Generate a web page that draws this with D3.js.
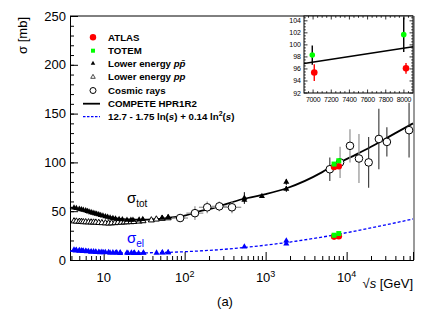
<!DOCTYPE html>
<html><head><meta charset="utf-8">
<script src="https://cdn.jsdelivr.net/npm/d3@7"></script>
<style>
html,body{margin:0;padding:0;background:#fff;}
text{font-family:"Liberation Sans",Arial,sans-serif;}
</style></head>
<body><svg id="c" width="436" height="310"></svg>
<script>
// ---------- data ----------
const yTicks = [0, 50, 100, 150, 200, 250];
const xTickExp = [1, 2, 3, 4];
const insetYTicks = [92, 94, 96, 98, 100, 102, 104];
const insetXTicks = [7000, 7200, 7400, 7600, 7800, 8000];

// COMPETE HPR1R2 total cross-section curve (sqrt s [GeV], sigma [mb])
const competeS   = [3.84, 5, 7, 10, 15, 20, 30, 60, 100, 155, 200, 525, 1000, 1820, 5000, 7000, 8000, 13000, 20000, 27000, 40000, 66000];
const competeSig = [54, 51.5, 48.5, 45.5, 42.5, 41.5, 41.3, 43, 45.5, 50, 52, 62.5, 67.5, 73.5, 90, 97.2, 99.5, 108, 116, 122, 130, 140];
// elastic parametrisation curve
const elS   = [3.84, 5, 10, 20, 50, 100, 300, 1000, 2000, 7000, 20000, 66000];
const elSig = [9.2, 8.5, 7.6, 7.25, 7.6, 8.5, 10.9, 15.2, 18.4, 25.6, 32.9, 42.0];

// ATLAS / TOTEM
const atlasS = [7000, 8000], atlasTot = [95.4, 96.1], atlasTotErr = [1.4, 0.9], atlasEl = [24.0, 24.3];
const totemS = [7000, 8000], totemTot = [98.3, 101.7], totemTotErr = [1.6, 2.9], totemEl = [25.4, 27.1];
// inset x positions (slightly offset in the inset)
const atlasInsetS = [7013, 8023];
const totemInsetS = [6991, 7998];
const insetLineS = [6900, 8100], insetLineSig = [96.9, 99.7];

// lower energy p-pbar (filled triangles)
const ppbarS   = [4.3, 4.6, 5.0, 5.3, 5.6, 6.0, 6.3, 6.6, 7.0, 7.4, 7.8, 8.2, 8.7, 9.2, 9.8, 10.5, 11.2, 12.0, 13.0, 14.0, 15.5, 17.0, 19.4, 21.7, 23.0, 27.4, 30.4, 52.6, 62.7, 546, 546, 900, 1800, 1800];
const ppbarTot = [53.5, 53.0, 52.3, 51.7, 51.2, 50.6, 50.0, 49.4, 48.8, 48.2, 47.6, 47.1, 46.5, 45.9, 45.3, 44.6, 44.0, 43.4, 42.8, 42.3, 41.8, 41.4, 41.1, 40.9, 41.0, 41.3, 41.8, 43.0, 43.9, 61.5, 63.5, 65.3, 72.8, 80.0];
const ppbarTotErr = [0.8, 0.8, 0.8, 0.7, 0.7, 0.7, 0.6, 0.6, 0.6, 0.6, 0.5, 0.5, 0.5, 0.5, 0.5, 0.5, 0.5, 0.5, 0.5, 0.5, 0.5, 0.5, 0.5, 0.5, 0.5, 0.5, 0.5, 0.5, 0.5, 1.5, 6.0, 1.0, 3.0, 3.0];
const ppbarElS = [4.3, 4.6, 5.0, 5.3, 5.6, 6.0, 6.5, 7.0, 7.5, 8.0, 8.7, 9.5, 10.5, 11.5, 13.0, 14.5, 16.0, 19.4, 22.0, 24.0, 31.0, 53.0, 62.5, 546, 1800, 1800];
const ppbarEl  = [10.5, 10.2, 9.9, 9.6, 9.4, 9.2, 9.0, 8.8, 8.6, 8.4, 8.3, 8.1, 8.0, 7.9, 7.8, 7.7, 7.6, 7.5, 7.4, 7.5, 7.5, 7.6, 7.8, 13.5, 16.6, 19.7];
// lower energy p-p (open triangles)
const ppS   = [4.3, 4.6, 5.0, 5.3, 5.6, 6.0, 6.5, 7.0, 7.5, 8.0, 8.7, 9.5, 10.5, 11.5, 12.5, 13.8, 15.0, 16.5, 18.0, 19.4, 21.7, 23.5, 27.4, 30.6, 38.8, 44.7, 52.8, 62.5];
const ppTot = [39.8, 39.6, 39.4, 39.2, 39.0, 38.9, 38.8, 38.7, 38.6, 38.5, 38.2, 38.0, 37.8, 37.6, 37.8, 38.0, 38.3, 38.5, 38.7, 38.9, 39.0, 39.2, 39.6, 40.0, 40.8, 41.7, 42.4, 43.0];
const ppElS = [4.5, 5.0, 5.5, 6.2, 7.0, 8.0, 9.0, 10.0, 12.0, 14.0, 16.0, 20.0, 23.5, 27.0, 31.0, 45.0, 53.0, 62.5];
const ppEl  = [9.5, 9.2, 8.9, 8.6, 8.3, 8.0, 7.8, 7.6, 7.3, 7.1, 7.0, 7.0, 6.9, 7.0, 7.1, 7.3, 7.4, 7.6];

// cosmic rays (open circles): grey error bars group
const cosmicAS   = [88, 134, 190, 268, 384, 8300, 11000, 14200];
const cosmicALo  = [70, 105, 150, 215, 300, 8300, 11000, 14200];
const cosmicAHi  = [110, 170, 240, 335, 500, 8300, 11000, 14200];
const cosmicASig = [43, 48, 54, 55, 54, 100, 117, 104];
const cosmicAErr = [4, 7, 6, 5, 6, 16, 17, 25];
// cosmic rays: black error bars group
const cosmicBS   = [6200, 18700, 25000, 31400, 59000];
const cosmicBSig = [93, 100, 124, 121, 133];
const cosmicBErr = [12, 26, 31, 15, 28];

// ---------- drawing ----------
const svg = d3.select("#c");
const L = 70, R = 413, T = 16, B = 260;
const x = d3.scaleLog().domain([3.84, 66000]).range([L, R]);
const y = d3.scaleLinear().domain([0, 250]).range([B, T]);

// frame
svg.append("line").attr("x1", L).attr("x2", R).attr("y1", T).attr("y2", T).attr("stroke", "#000");
svg.append("line").attr("x1", R + 1).attr("x2", R + 1).attr("y1", T).attr("y2", B).attr("stroke", "#9a9a9a").attr("stroke-width", 2);

// y axis
const yAx = svg.append("g").attr("transform", `translate(${L},0)`)
  .call(d3.axisLeft(y).tickValues(yTicks).tickSize(-8).tickPadding(4).tickFormat(d3.format("d")));
svg.append("g").attr("transform", `translate(${L},0)`)
  .call(d3.axisLeft(y).tickValues(d3.range(0, 251, 10)).tickSize(-4).tickFormat(""));
// x axis
svg.append("g").attr("transform", `translate(0,${B})`)
  .call(d3.axisBottom(x).tickValues(xTickExp.map(e => Math.pow(10, e))).tickSize(-8).tickFormat(""));
const minorX = [];
for (let e = 0; e <= 4; e++) for (let m = 2; m <= 9; m++) { const v = m * Math.pow(10, e); if (v > 3.84 && v < 66000) minorX.push(v); }
svg.append("g").attr("transform", `translate(0,${B})`)
  .call(d3.axisBottom(x).tickValues(minorX).tickSize(-4).tickFormat(""));
svg.selectAll(".domain").attr("stroke", "#000");
svg.selectAll(".tick line").attr("stroke", "#000");
yAx.selectAll("text").attr("font-size", 13).attr("fill", "#000").attr("font-family", "Liberation Sans, Arial, sans-serif");

xTickExp.forEach(e => {
  const t = svg.append("text").attr("x", x(Math.pow(10, e))).attr("y", 282).attr("text-anchor", "middle").attr("font-size", 13);
  t.append("tspan").text("10");
  if (e > 1) t.append("tspan").attr("dy", -5).attr("font-size", 9).text(e);
});

// axis titles
svg.append("text").attr("transform", "translate(27,17) rotate(-90)").attr("text-anchor", "end").attr("font-size", 13)
  .text("σ [mb]");
const xt = svg.append("text").attr("x", R).attr("y", 288).attr("text-anchor", "end").attr("font-size", 13);
xt.append("tspan").text("√");
xt.append("tspan").attr("font-style", "italic").text("s");
xt.append("tspan").text(" [GeV]");
svg.append("text").attr("x", 225).attr("y", 306).attr("text-anchor", "middle").attr("font-size", 13).text("(a)");

// curves
const line = d3.line().x(d => x(d[0])).y(d => y(d[1])).curve(d3.curveMonotoneX);
svg.append("path").attr("d", line(elS.map((s, i) => [s, elSig[i]]))).attr("fill", "none")
  .attr("stroke", "#0000ff").attr("stroke-width", 1.3).attr("stroke-dasharray", "3,2");
svg.append("path").attr("d", line(competeS.map((s, i) => [s, competeSig[i]]))).attr("fill", "none")
  .attr("stroke", "#000").attr("stroke-width", 1.8);

const tri = d3.symbol().type(d3.symbolTriangle).size(16);
function vErr(g, xs, ys, es, col, w) {
  g.selectAll(null).data(xs).enter().append("line")
    .attr("x1", d => x(d)).attr("x2", d => x(d))
    .attr("y1", (d, i) => y(ys[i] + es[i])).attr("y2", (d, i) => y(ys[i] - es[i]))
    .attr("stroke", col).attr("stroke-width", w || 1);
}
const gD = svg.append("g");
// cosmic error bars
vErr(gD, cosmicAS, cosmicASig, cosmicAErr, "#999", 1.3);
gD.selectAll(null).data(cosmicAS).enter().append("line")
  .attr("x1", (d, i) => x(cosmicALo[i])).attr("x2", (d, i) => x(cosmicAHi[i]))
  .attr("y1", (d, i) => y(cosmicASig[i])).attr("y2", (d, i) => y(cosmicASig[i]))
  .attr("stroke", "#999").attr("stroke-width", 1.3);
vErr(gD, cosmicBS, cosmicBSig, cosmicBErr, "#333", 1.1);
vErr(gD, ppbarS, ppbarTot, ppbarTotErr, "#000", 1);

// low energy markers
gD.selectAll(null).data(ppS).enter().append("path").attr("d", tri)
  .attr("transform", (d, i) => `translate(${x(d)},${y(ppTot[i])})`).attr("fill", "#fff").attr("stroke", "#000").attr("stroke-width", 1);
gD.selectAll(null).data(ppbarS).enter().append("path").attr("d", tri)
  .attr("transform", (d, i) => `translate(${x(d)},${y(ppbarTot[i])})`).attr("fill", "#000");
gD.selectAll(null).data(ppElS).enter().append("path").attr("d", tri)
  .attr("transform", (d, i) => `translate(${x(d)},${y(ppEl[i])})`).attr("fill", "#0000ff");
gD.selectAll(null).data(ppbarElS).enter().append("path").attr("d", tri)
  .attr("transform", (d, i) => `translate(${x(d)},${y(ppbarEl[i])})`).attr("fill", "#0000ff");

// cosmic markers
gD.selectAll(null).data(cosmicAS.map((s, i) => [s, cosmicASig[i]]).concat(cosmicBS.map((s, i) => [s, cosmicBSig[i]])))
  .enter().append("circle").attr("cx", d => x(d[0])).attr("cy", d => y(d[1])).attr("r", 3.8)
  .attr("fill", "#fff").attr("stroke", "#000").attr("stroke-width", 1);

// ATLAS / TOTEM main
gD.selectAll(null).data(atlasS).enter().append("circle").attr("cx", d => x(d)).attr("cy", (d, i) => y(atlasTot[i])).attr("r", 3.3).attr("fill", "#ff0000");
gD.selectAll(null).data(atlasS).enter().append("circle").attr("cx", d => x(d)).attr("cy", (d, i) => y(atlasEl[i])).attr("r", 3.3).attr("fill", "#ff0000");
gD.selectAll(null).data(totemS).enter().append("rect").attr("x", d => x(d) - 2.5).attr("y", (d, i) => y(totemTot[i]) - 2.5).attr("width", 5).attr("height", 5).attr("fill", "#00ff00");
gD.selectAll(null).data(totemS).enter().append("rect").attr("x", d => x(d) - 2.5).attr("y", (d, i) => y(totemEl[i]) - 2.5).attr("width", 5).attr("height", 5).attr("fill", "#00ff00");

// sigma labels
const st = svg.append("text").attr("x", 127).attr("y", 203).attr("font-size", 15);
st.append("tspan").text("σ");
st.append("tspan").attr("dy", 4).attr("font-size", 10).text("tot");
const se = svg.append("text").attr("x", 127).attr("y", 243).attr("font-size", 15).attr("fill", "#0000ff");
se.append("tspan").text("σ");
se.append("tspan").attr("dy", 4).attr("font-size", 10).text("el");

// legend
const lx = 93, tx = 108, rows = [37.3, 50.7, 63.5, 77, 90.5, 103.7, 116.7];
const lg = svg.append("g").attr("font-size", 9.7).attr("font-weight", "bold");
lg.append("circle").attr("cx", lx).attr("cy", rows[0]).attr("r", 3.2).attr("fill", "#ff0000");
lg.append("rect").attr("x", lx - 2).attr("y", rows[1] - 2).attr("width", 4).attr("height", 4).attr("fill", "#00ff00");
lg.append("path").attr("d", d3.symbol().type(d3.symbolTriangle).size(9)).attr("transform", `translate(${lx},${rows[2]})`).attr("fill", "#000");
lg.append("path").attr("d", d3.symbol().type(d3.symbolTriangle).size(9)).attr("transform", `translate(${lx},${rows[3]})`).attr("fill", "#fff").attr("stroke", "#000").attr("stroke-width", 0.7);
lg.append("circle").attr("cx", lx).attr("cy", rows[4]).attr("r", 3).attr("fill", "#fff").attr("stroke", "#000");
lg.append("line").attr("x1", 83).attr("x2", 100).attr("y1", rows[5]).attr("y2", rows[5]).attr("stroke", "#000").attr("stroke-width", 1.8);
lg.append("line").attr("x1", 83).attr("x2", 100).attr("y1", rows[6]).attr("y2", rows[6]).attr("stroke", "#0000ff").attr("stroke-width", 1.2).attr("stroke-dasharray", "2.5,1.5");
function ltxt(i) { return lg.append("text").attr("x", tx).attr("y", rows[i] + 3.4); }
ltxt(0).text("ATLAS");
ltxt(1).text("TOTEM");
let t2 = ltxt(2); t2.append("tspan").text("Lower energy ");
t2.append("tspan").attr("font-style", "italic").text("p");
t2.append("tspan").attr("font-style", "italic").text("p\u0304");
let t3 = ltxt(3); t3.append("tspan").text("Lower energy ");
t3.append("tspan").attr("font-style", "italic").text("pp");
ltxt(4).text("Cosmic rays");
ltxt(5).text("COMPETE HPR1R2");
let t6 = ltxt(6); t6.append("tspan").text("12.7 - 1.75 ln(");
t6.append("tspan").attr("font-style", "italic").text("s");
t6.append("tspan").text(") + 0.14 ln");
t6.append("tspan").attr("dy", -4).attr("font-size", 7).text("2");
t6.append("tspan").attr("dy", 4).text("(");
t6.append("tspan").attr("font-style", "italic").text("s");
t6.append("tspan").text(")");

// ---------- inset ----------
const IL = 304, IR = 413, IT = 16, IB = 93;
const xi = d3.scaleLinear().domain([6900, 8100]).range([IL, IR]);
const yi = d3.scaleLinear().domain([92, 104.8]).range([IB, IT]);
const gi = svg.append("g");
gi.append("rect").attr("x", IL).attr("y", IT).attr("width", IR - IL).attr("height", IB - IT).attr("fill", "#fff").attr("stroke", "#000");
function itick(vals, len, side) {
  vals.forEach(v => {
    if (side === "y") {
      gi.append("line").attr("x1", IL).attr("x2", IL + len).attr("y1", yi(v)).attr("y2", yi(v)).attr("stroke", "#000").attr("stroke-width", 0.8);
      gi.append("line").attr("x1", IR).attr("x2", IR - len).attr("y1", yi(v)).attr("y2", yi(v)).attr("stroke", "#000").attr("stroke-width", 0.8);
    } else {
      gi.append("line").attr("x1", xi(v)).attr("x2", xi(v)).attr("y1", IB).attr("y2", IB - len).attr("stroke", "#000").attr("stroke-width", 0.8);
      gi.append("line").attr("x1", xi(v)).attr("x2", xi(v)).attr("y1", IT).attr("y2", IT + len).attr("stroke", "#000").attr("stroke-width", 0.8);
    }
  });
}
itick(insetYTicks, 3.5, "y");
itick(d3.range(92, 104.8, 0.5).filter(v => v % 2 !== 0), 1.8, "y");
itick(insetXTicks, 3.5, "x");
itick(d3.range(6950, 8100, 50).filter(v => v % 200 !== 0), 1.8, "x");
insetYTicks.forEach(v => gi.append("text").attr("x", IL - 3).attr("y", yi(v) + 2.5).attr("text-anchor", "end").attr("font-size", 7).text(v));
insetXTicks.forEach(v => gi.append("text").attr("x", xi(v)).attr("y", 102).attr("text-anchor", "middle").attr("font-size", 7).attr("letter-spacing", -0.3).text(v));
gi.append("line").attr("x1", xi(insetLineS[0])).attr("x2", xi(insetLineS[1])).attr("y1", yi(insetLineSig[0])).attr("y2", yi(insetLineSig[1])).attr("stroke", "#000").attr("stroke-width", 1.5);
totemInsetS.forEach((s, i) => {
  gi.append("line").attr("x1", xi(s)).attr("x2", xi(s)).attr("y1", yi(totemTot[i] + totemTotErr[i])).attr("y2", yi(totemTot[i] - totemTotErr[i])).attr("stroke", "#000").attr("stroke-width", 1.4);
});
atlasInsetS.forEach((s, i) => {
  gi.append("line").attr("x1", xi(s)).attr("x2", xi(s)).attr("y1", yi(atlasTot[i] + atlasTotErr[i])).attr("y2", yi(atlasTot[i] - atlasTotErr[i])).attr("stroke", "#ff0000").attr("stroke-width", 1.4);
  gi.append("circle").attr("cx", xi(s)).attr("cy", yi(atlasTot[i])).attr("r", 3.3).attr("fill", "#ff0000");
});
totemInsetS.forEach((s, i) => {
  gi.append("circle").attr("cx", xi(s)).attr("cy", yi(totemTot[i])).attr("r", 2.8).attr("fill", "#00ff00");
});
</script></body></html>
